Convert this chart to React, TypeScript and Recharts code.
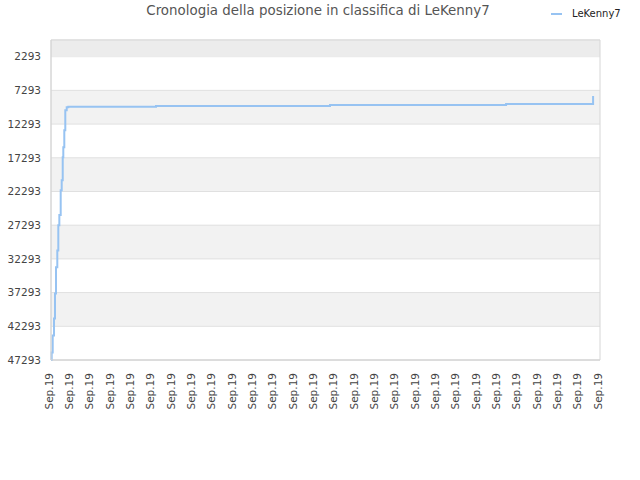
import { LineChart, Line, XAxis, YAxis, CartesianGrid, Legend, ReferenceArea } from 'recharts';

// position on the time axis (in label steps) and classifica rank
const positions = [0, 0.034, 0.084, 0.148, 0.197, 0.246, 0.31, 0.36, 0.41, 0.477, 0.526, 0.576, 0.605, 0.654, 0.703, 0.772, 0.851, 5.165, 13.72, 22.38, 26.66];
const ranks = [47290, 46170, 43650, 41130, 37410, 33550, 31030, 27300, 25800, 22120, 20630, 17220, 15730, 13210, 10240, 9790, 9720, 9600, 9450, 9300, 8110];

const tickLabels = [
  'Sep.19', 'Sep.19', 'Sep.19', 'Sep.19', 'Sep.19', 'Sep.19', 'Sep.19',
  'Sep.19', 'Sep.19', 'Sep.19', 'Sep.19', 'Sep.19', 'Sep.19', 'Sep.19',
  'Sep.19', 'Sep.19', 'Sep.19', 'Sep.19', 'Sep.19', 'Sep.19', 'Sep.19',
  'Sep.19', 'Sep.19', 'Sep.19', 'Sep.19', 'Sep.19', 'Sep.19', 'Sep.19',
];
const rankTicks = [2293, 7293, 12293, 17293, 22293, 27293, 32293, 37293, 42293, 47293];
const rankTop = -180;

const data = positions.map((t, i) => ({ t, rank: ranks[i] }));
const xTicks = tickLabels.map((_, i) => i);

const FONT = '"DejaVu Sans", sans-serif';
const LINE_COLOR = '#97c3f2';

const XTick = ({ x, y, payload }: any) => {
  const ty = y + 11;
  return (
    <text
      x={x}
      y={ty}
      dy={1.5}
      transform={`rotate(-90, ${x}, ${ty})`}
      textAnchor="end"
      fill="#444"
      fontSize={10.5}
      fontFamily={FONT}
    >
      {tickLabels[payload.value]}
    </text>
  );
};

const LegendContent = () => (
  <div style={{ display: 'flex', alignItems: 'center', fontFamily: FONT, fontSize: 10, color: '#222' }}>
    <svg width={12} height={4} style={{ marginRight: 9 }}>
      <line x1={0} y1={2} x2={11} y2={2} stroke={LINE_COLOR} strokeWidth={2} />
    </svg>
    <span>LeKenny7</span>
  </div>
);

export default function App() {
  return (
    <div style={{ position: 'absolute', left: 0, top: 0, width: 640, height: 480, background: '#fff' }}>
      <div
        style={{
          position: 'absolute',
          top: 3,
          left: 0,
          width: 636,
          textAlign: 'center',
          fontFamily: FONT,
          fontSize: 13.4,
          color: '#555',
        }}
      >
        Cronologia della posizione in classifica di LeKenny7
      </div>
      <LineChart width={640} height={480} data={data} margin={{ top: 40, right: 40, bottom: 0, left: 0 }}>
        <ReferenceArea x1={0} x2={27} y1={rankTop} y2={2293} fill="#ececec" fillOpacity={1} stroke="none" />
        <CartesianGrid
          vertical={false}
          stroke="#e0e0e0"
          strokeDasharray=""
          horizontalFill={['transparent', '#ffffff', '#f2f2f2', '#ffffff', '#f2f2f2', '#ffffff', '#f2f2f2', '#ffffff', '#f2f2f2', '#ffffff']}
          fillOpacity={1}
        />
        <XAxis
          dataKey="t"
          type="number"
          domain={[0, 27]}
          ticks={xTicks}
          interval={0}
          height={120}
          tickLine={false}
          tickSize={0}
          axisLine={{ stroke: '#d6d6d6' }}
          tick={<XTick />}
        />
        <YAxis
          dataKey="rank"
          type="number"
          reversed
          domain={[rankTop, 47293]}
          ticks={rankTicks}
          interval={0}
          width={51}
          tickLine={false}
          tickSize={0}
          tickMargin={10}
          axisLine={{ stroke: '#d6d6d6' }}
          tick={{ fill: '#444', fontSize: 10.5, fontFamily: FONT }}
        />
        <ReferenceArea x1={0} x2={27} y1={rankTop} y2={47293} fill="none" stroke="#d6d6d6" ifOverflow="extendDomain" />
        <Legend
          layout="vertical"
          align="center"
          verticalAlign="middle"
          content={<LegendContent />}
          wrapperStyle={{ position: 'absolute', left: 551, top: 8, width: 'auto' }}
        />
        <Line
          type="stepAfter"
          dataKey="rank"
          name="LeKenny7"
          stroke={LINE_COLOR}
          strokeWidth={2}
          dot={false}
          isAnimationActive={false}
        />
      </LineChart>
    </div>
  );
}
